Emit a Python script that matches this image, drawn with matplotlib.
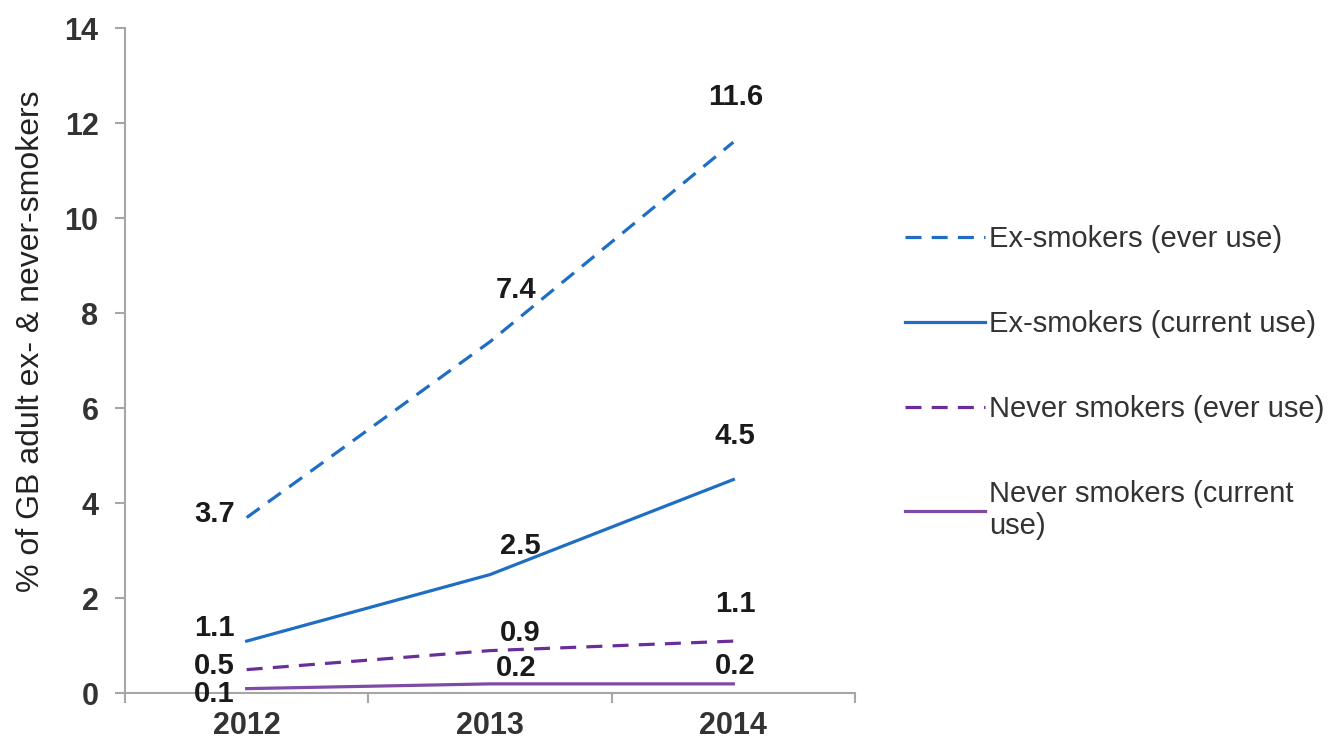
import matplotlib.pyplot as plt
import numpy as np

plt.rcParams['font.family'] = ['Liberation Sans', 'DejaVu Sans']

anos = ['2012', '2013', '2014']
ex_sempre = [3.7, 7.4, 11.6]
ex_atual = [1.1, 2.5, 4.5]
nunca_sempre = [0.5, 0.9, 1.1]
nunca_atual = [0.1, 0.2, 0.2]

legendas = ['Ex-smokers (ever use)', 'Ex-smokers (current use)',
            'Never smokers (ever use)', 'Never smokers (current\nuse)']

# deslocamento (em pixels) dos rótulos de cada série
desloc = [
    [(-32, 4), (26, 52), (2, 45)],
    [(-32, 13), (30, 29), (2, 44)],
    [(-32, 4), (30, 18), (2, 37)],
    [(-32, -5), (26, 16), (2, 18)],
]

cores = ['#1F6EC4', '#1F6EC4', '#6A2E9A', '#7E4AA6']
estilos = [(0, (5, 3.2)), '-', (0, (5, 3.2)), '-']
series = [ex_sempre, ex_atual, nunca_sempre, nunca_atual]

fig = plt.figure(figsize=(13.37, 7.4), dpi=100)
ax = fig.add_axes([0.0935, 0.063, 0.546, 0.899])

x = np.arange(len(anos))
for serie, cor, estilo, nome, offs in zip(series, cores, estilos, legendas, desloc):
    ax.plot(x, serie, color=cor, linestyle=estilo, linewidth=2.3, label=nome)
    for xi, v, (dx, dy) in zip(x, serie, offs):
        ax.annotate(f'{v:.1f}', (xi, v), xytext=(dx, dy), textcoords='offset pixels',
                    ha='center', va='center', fontsize=21, fontweight='bold', color='#1a1a1a')

ax.set_xlim(-0.5, 2.5)
ax.set_ylim(0, 14)
ax.set_yticks(np.arange(0, 15, 2))
ax.set_xticks(x)
ax.set_xticklabels(anos, fontsize=22, fontweight='bold', color='#333333')
ax.set_xticks([-0.5, 0.5, 1.5, 2.5], minor=True)
ax.tick_params(axis='x', which='major', length=0, pad=13)
ax.tick_params(axis='x', which='minor', length=7, color='#A6A6A6', width=1.5)
ax.tick_params(axis='y', length=7, color='#A6A6A6', width=1.5, labelsize=22, pad=12,
               labelcolor='#333333')
for t in ax.get_yticklabels():
    t.set_fontweight('bold')

for lado in ['top', 'right']:
    ax.spines[lado].set_visible(False)
for lado in ['left', 'bottom']:
    ax.spines[lado].set_color('#A6A6A6')
    ax.spines[lado].set_linewidth(1.5)

ax.set_ylabel('% of GB adult ex- & never-smokers', fontsize=23, color='#222222')
ax.yaxis.set_label_coords(-0.108, 0.53)

fig.legend(loc='upper left', bbox_to_anchor=(0.657, 0.731), frameon=False, fontsize=21,
           handlelength=2.75, handletextpad=0.15, labelspacing=1.95, labelcolor='#333333')

fig.savefig('out.png', dpi=100)
